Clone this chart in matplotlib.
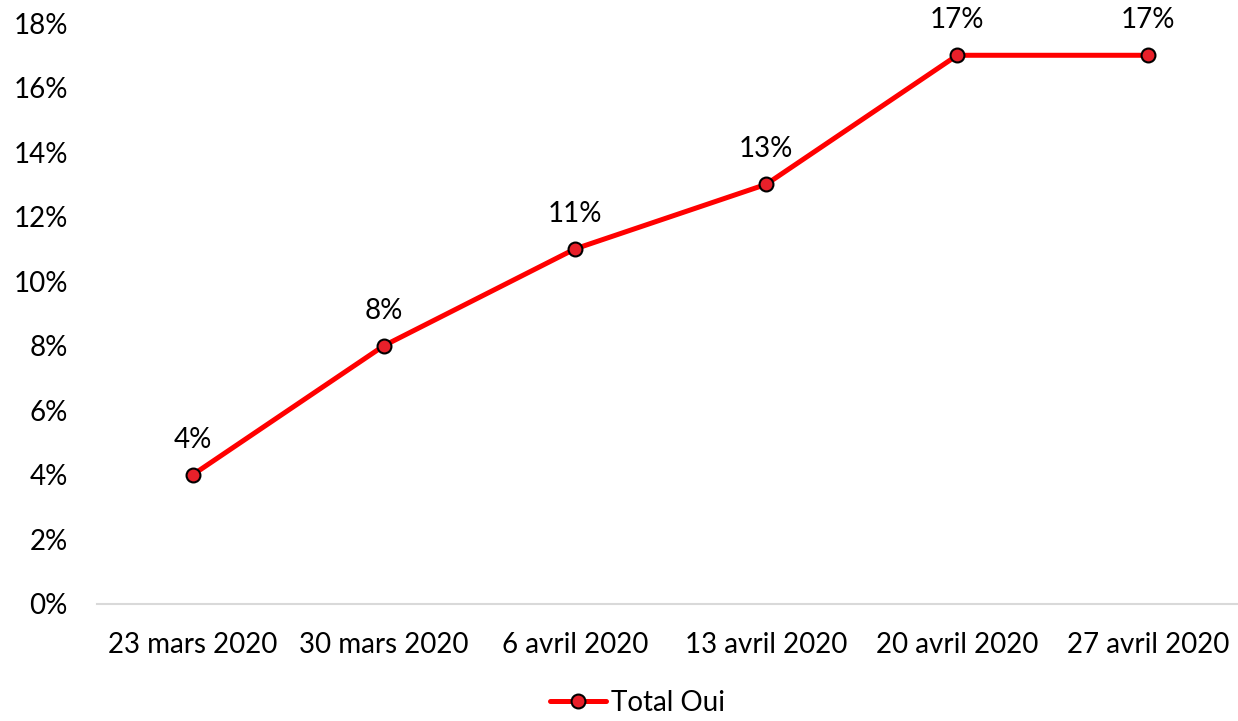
import matplotlib
matplotlib.use("Agg")
import matplotlib.pyplot as plt
from matplotlib.ticker import FuncFormatter

categories = ["23 mars 2020", "30 mars 2020", "6 avril 2020", "13 avril 2020", "20 avril 2020", "27 avril 2020"]
values = [4, 8, 11, 13, 17, 17]
series_name = "Total Oui"

plt.rcParams['font.family'] = ['Lato', 'DejaVu Sans']

W, H = 1238, 721
fig = plt.figure(figsize=(W / 100, H / 100), dpi=100)
ax = fig.add_axes([97 / W, 117 / H, 1147 / W, (604 - 23) / H])

FS = 20
x = list(range(len(categories)))
ax.plot(x, values, color="#FF0000", lw=3.6, marker="o", markersize=10,
        markerfacecolor="#E8202A", markeredgecolor="black", markeredgewidth=1.5,
        label=series_name, solid_capstyle="round", clip_on=False, zorder=3)
for xi, v in zip(x, values):
    ax.annotate(f"{v}%", (xi, v), xytext=(0, 16), textcoords="offset points",
                ha="center", va="bottom", fontsize=FS, color="black")

ax.set_xlim(-0.5, len(categories) - 0.5)
ax.set_ylim(0, 18)
ax.set_yticks(range(0, 19, 2))
ax.yaxis.set_major_formatter(FuncFormatter(lambda v, p: f"{int(v)}%"))
ax.set_xticks(x)
ax.set_xticklabels(categories)
ax.tick_params(axis="both", length=0, labelsize=FS, colors="black")
ax.tick_params(axis="y", pad=21)
ax.tick_params(axis="x", pad=20)
for s in ["top", "right", "left"]:
    ax.spines[s].set_visible(False)
ax.spines["bottom"].set_color("#D9D9D9")
ax.spines["bottom"].set_linewidth(1.5)

fig.legend(loc="lower center", bbox_to_anchor=(0.515, -0.028), frameon=False,
           fontsize=FS, handlelength=2.0, handletextpad=0.2)

fig.savefig("out.png", dpi=100)
